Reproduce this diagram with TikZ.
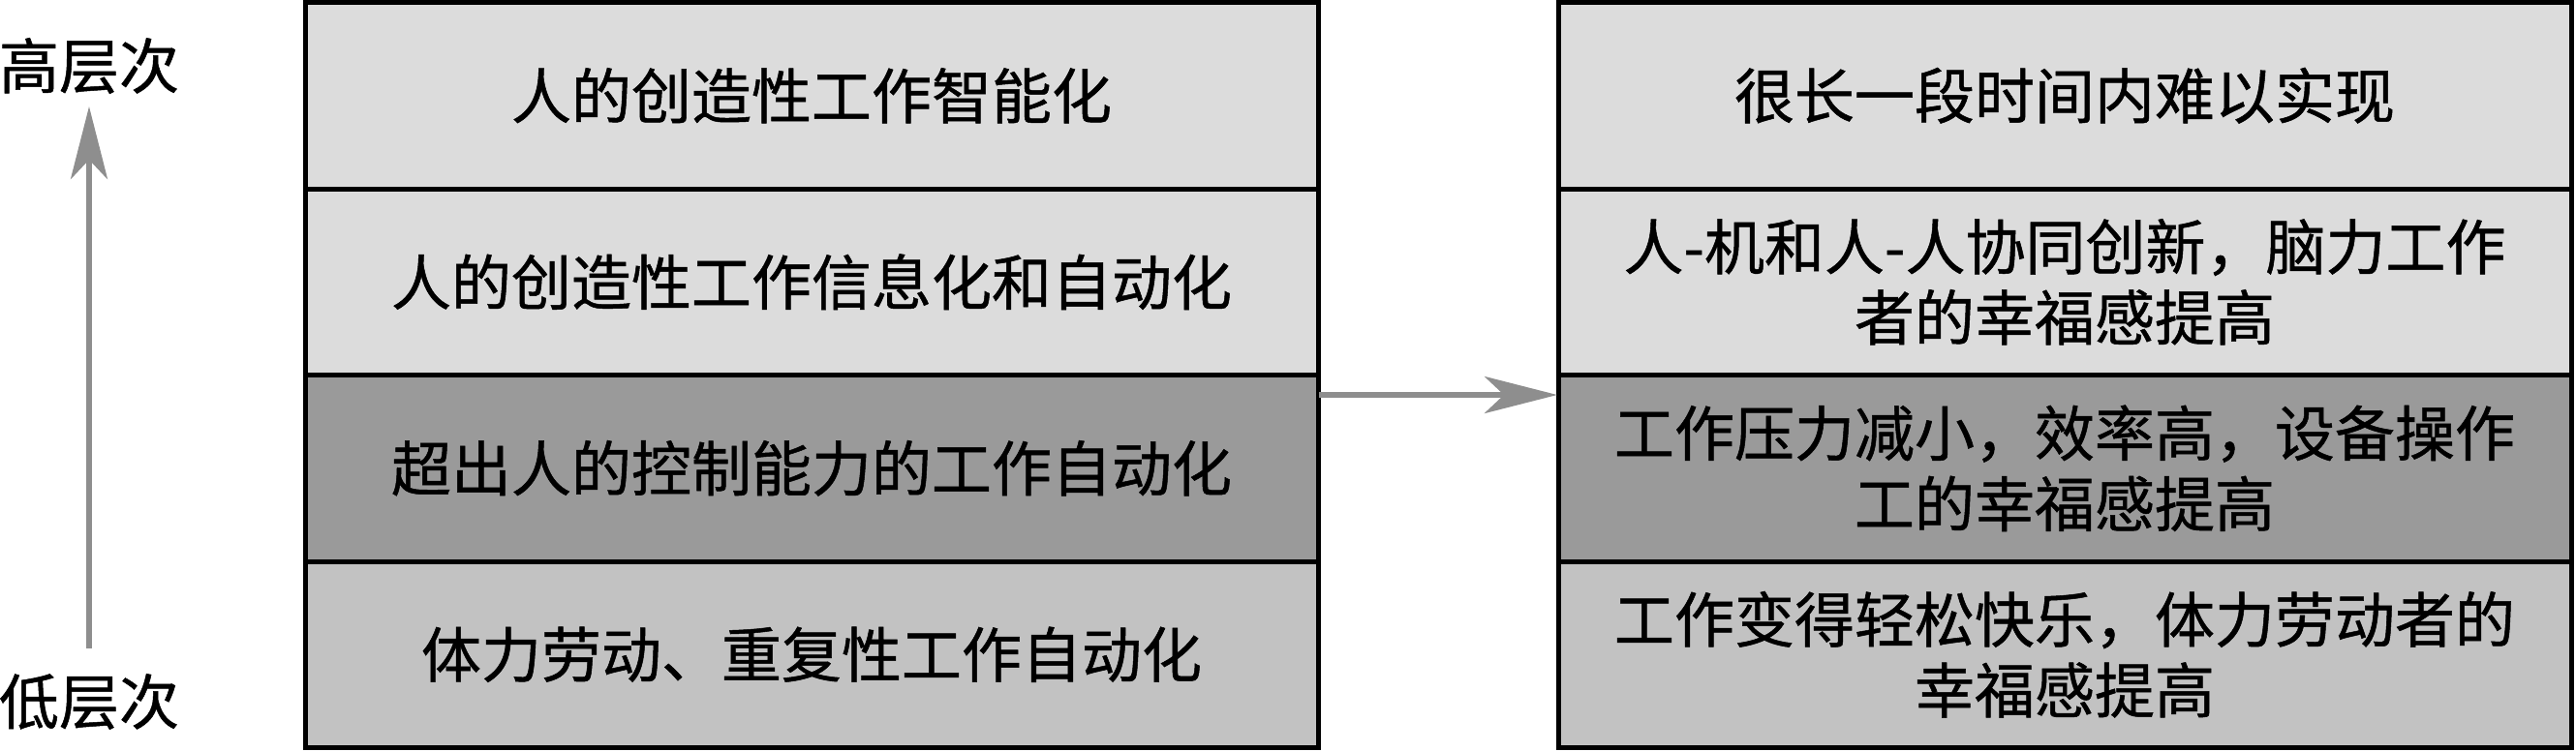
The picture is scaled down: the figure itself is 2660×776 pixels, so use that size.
\documentclass[tikz,border=0pt]{standalone}
\usepackage{fontspec}
\newfontfamily\cjk[FakeBold=0.8]{Noto Sans CJK SC}
\usetikzlibrary{arrows.meta}
\definecolor{rowA}{HTML}{DCDCDC}
\definecolor{rowB}{HTML}{DCDCDC}
\definecolor{rowC}{HTML}{9A9A9A}
\definecolor{rowD}{HTML}{C2C2C2}
\definecolor{arrowgray}{HTML}{8E8E8E}
\tikzset{
  cell/.style={draw=black, line width=1.25pt, inner sep=0pt, outer sep=0pt,
    minimum width=261.5pt, minimum height=48.125pt, align=center,
    font=\cjk\fontsize{15.5pt}{18.25pt}\selectfont},
  lvl/.style={inner sep=0pt, font=\cjk\fontsize{15.5pt}{18.25pt}\selectfont},
  garrow/.style={draw=arrowgray, line width=1.5pt,
    -{Stealth[length=18.75pt, width=9.5pt, inset=5pt]}}
}
\begin{document}
\begin{tikzpicture}[x=0.25pt,y=-0.25pt]
\useasboundingbox (0,0) rectangle (2660,776);
% left column
\node[cell, fill=rowA] (L1) at (838,98.75) {人的创造性工作智能化};
\node[cell, fill=rowB] (L2) at (838,291.25) {人的创造性工作信息化和自动化};
\node[cell, fill=rowC] (L3) at (838,483.75) {超出人的控制能力的工作自动化};
\node[cell, fill=rowD] (L4) at (838,676.25) {体力劳动、重复性工作自动化};
% right column
\node[cell, fill=rowA] (R1) at (2132,98.75) {很长一段时间内难以实现};
\node[cell, fill=rowB] (R2) at (2132,291.25) {人-机和人-人协同创新，脑力工作\\者的幸福感提高};
\node[cell, fill=rowC] (R3) at (2132,483.75) {工作压力减小，效率高，设备操作\\工的幸福感提高};
\node[cell, fill=rowD] (R4) at (2132,676.25) {工作变得轻松快乐，体力劳动者的\\幸福感提高};
% level labels
\node[lvl] (hi) at (92,68) {高层次};
\node[lvl] (lo) at (92,725) {低层次};
\coordinate (vs) at (92,670);
\coordinate (ve) at (92,110);
\draw[garrow] (vs) -- (ve);
% horizontal arrow
\coordinate (hs) at (1362,408);
\coordinate (he) at (1608,408);
\draw[garrow] (hs) -- (he);
\end{tikzpicture}
\end{document}
